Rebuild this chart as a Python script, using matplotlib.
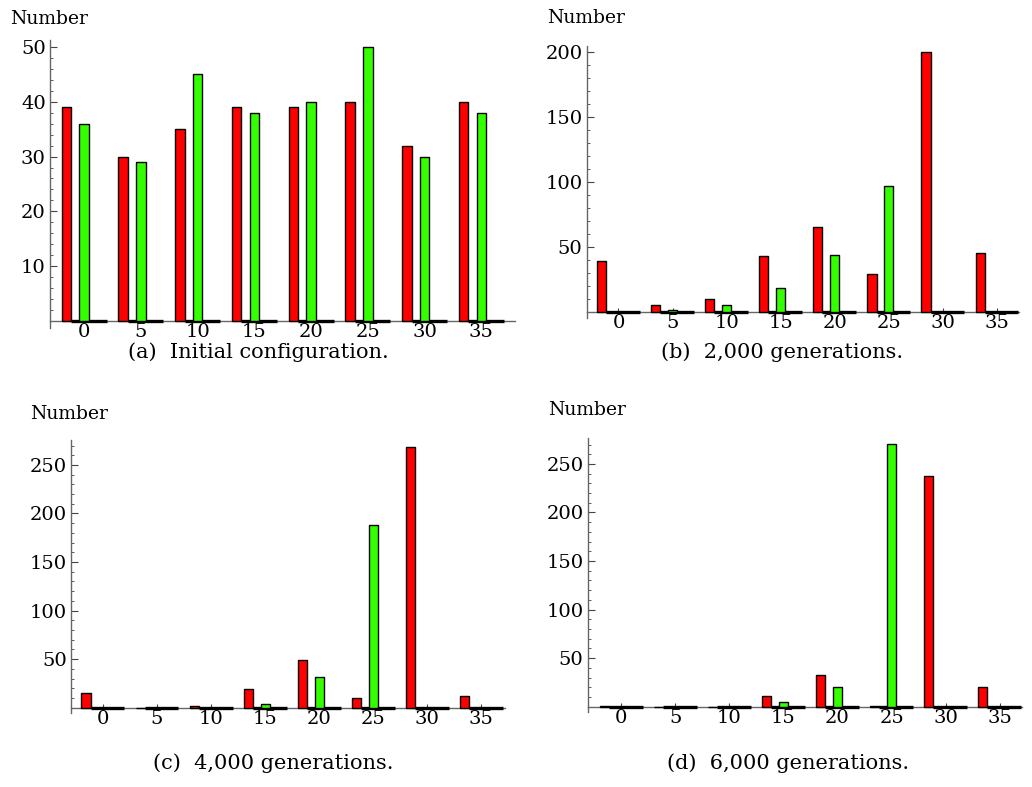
import numpy as np
import matplotlib
matplotlib.use("Agg")
import matplotlib.pyplot as plt

plt.rcParams['font.family'] = ['DejaVu Serif']

# group labels on the x axis
bins = [0, 5, 10, 15, 20, 25, 30, 35]

# counts (red series, green series)
red_a = [39, 30, 35, 39, 39, 40, 32, 40]
green_a = [36, 29, 45, 38, 40, 50, 30, 38]

red_b = [39, 5, 10, 43, 65, 29, 200, 45]
green_b = [0, 1, 5, 18, 44, 97, 0, 0]

red_c = [15, 0, 2, 19, 49, 10, 269, 12]
green_c = [0, 0, 0, 4, 32, 188, 0, 0]

red_d = [1, 0, 0, 11, 33, 1, 238, 20]
green_d = [0, 0, 0, 5, 20, 271, 0, 0]

captions = ['(a)  Initial configuration.', '(b)  2,000 generations.',
            '(c)  4,000 generations.', '(d)  6,000 generations.']

W, H = 1032, 787
fig = plt.figure(figsize=(W / 100, H / 100), dpi=100)

RED = '#ff0000'
GREEN = '#33ff00'
AXC = '#666666'

# pixel boxes: left, right, top, bottom ; ylim ; xlim ; major/minor y ticks
panels = [
    dict(box=(50, 515, 40, 328), ylim=(-1.33, 51.3), xlim=(-0.93, 25.3),
         major=10, minor=2, ymax=50, red=red_a, green=green_a,
         lab=(10, 19), cap=(258, 352)),
    dict(box=(586.7, 1019, 46, 318), ylim=(-4.9, 204.9), xlim=(-0.88, 24.7),
         major=50, minor=10, ymax=200, red=red_b, green=green_b,
         lab=(547, 18), cap=(782, 352)),
    dict(box=(71, 505, 440, 713.3), ylim=(-5.8, 275.7), xlim=(-0.89, 24.8),
         major=50, minor=10, ymax=250, red=red_c, green=green_c,
         lab=(30, 414), cap=(273, 763)),
    dict(box=(587.7, 1021.7, 438.3, 712.3), ylim=(-5.8, 276.4), xlim=(-0.98, 24.7),
         major=50, minor=10, ymax=250, red=red_d, green=green_d,
         lab=(548, 410), cap=(788, 763)),
]

gpitch = 3.2
bw = 0.54
idx = np.arange(len(bins))
xr = idx * gpitch
xg = xr + 1

for p, cap in zip(panels, captions):
    l, r, t, b = p['box']
    ax = fig.add_axes([l / W, 1 - b / H, (r - l) / W, (b - t) / H])
    ax.set_xlim(*p['xlim'])
    ax.set_ylim(*p['ylim'])

    # baseline of each group drawn as the zero-height third bar
    for xx in xr:
        ax.plot([xx + bw / 2, xx + 2 + bw / 2], [0, 0], color='black',
                lw=2.4, solid_capstyle='butt', zorder=3)
    ax.bar(xr, p['red'], width=bw, color=RED, edgecolor='black', linewidth=1.0, zorder=4)
    ax.bar(xg, p['green'], width=bw, color=GREEN, edgecolor='black', linewidth=1.0, zorder=4)

    for s in ['top', 'right']:
        ax.spines[s].set_visible(False)
    ax.spines['bottom'].set_position(('data', 0))
    ax.spines['bottom'].set_color(AXC)
    ax.spines['left'].set_color(AXC)
    ax.spines['bottom'].set_linewidth(1.0)
    ax.spines['left'].set_linewidth(1.0)

    ax.set_xticks(xg)
    ax.set_xticklabels([str(v) for v in bins])
    ax.set_yticks(np.arange(p['major'], p['ymax'] + 1, p['major']))
    ax.set_yticks(np.arange(0, p['ylim'][1], p['minor']), minor=True)
    ax.tick_params(axis='y', which='major', direction='in', length=5, width=0.8,
                   color='#444444', labelsize=14, pad=3)
    ax.tick_params(axis='y', which='minor', direction='in', length=2.5, width=0.6,
                   color='#444444')
    ax.tick_params(axis='x', which='major', direction='in', length=3, width=0.8,
                   color='#444444', labelsize=14, pad=2)

    fig.text(p['lab'][0] / W, 1 - p['lab'][1] / H, 'Number', fontsize=13.5,
             ha='left', va='center')
    fig.text(p['cap'][0] / W, 1 - p['cap'][1] / H, cap, fontsize=15,
             ha='center', va='center')

fig.savefig('out.png', dpi=100)
